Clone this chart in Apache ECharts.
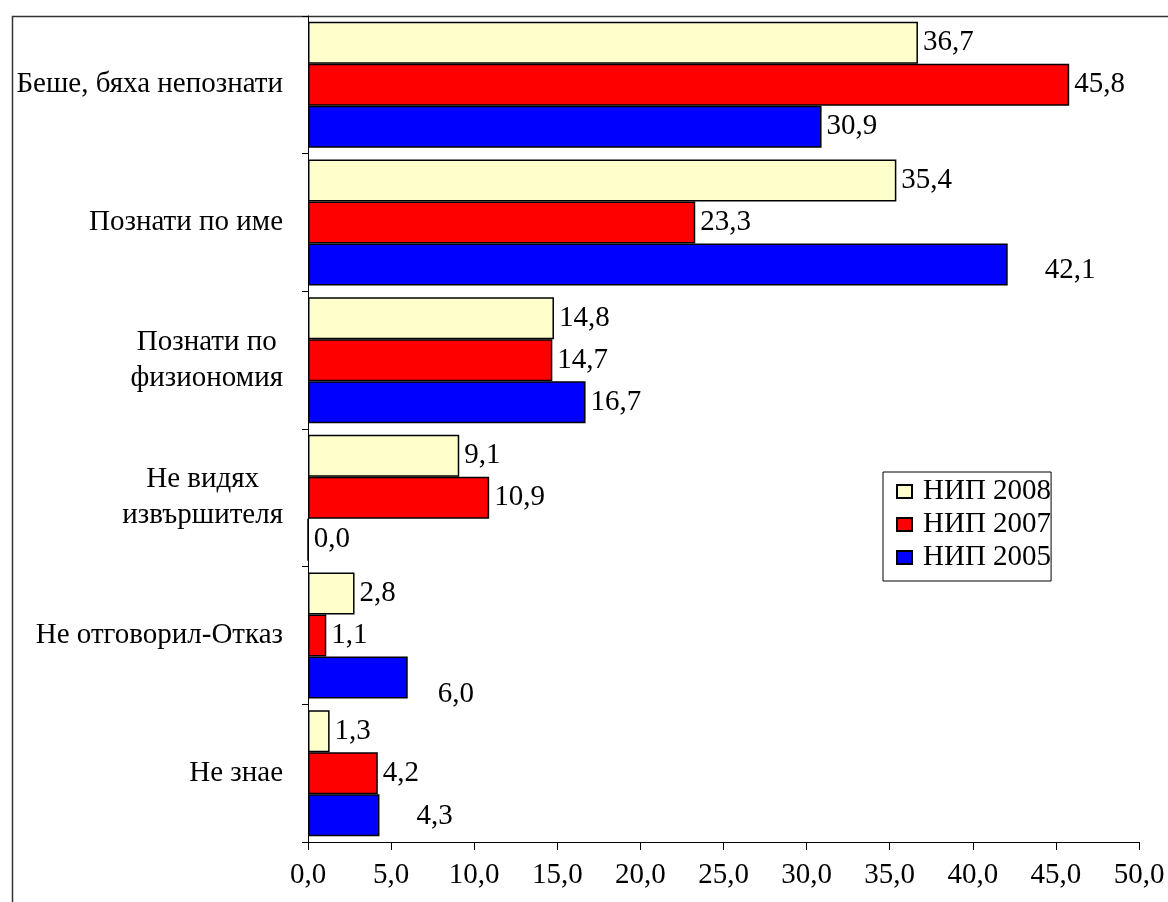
<!DOCTYPE html>
<html><head><meta charset="utf-8">
<script src="https://cdn.jsdelivr.net/npm/echarts@6/dist/echarts.min.js"></script>
<style>html,body{margin:0;padding:0;background:#fff}#c{width:1168px;height:902px}</style>
</head><body><div id="c"></div>
<script>
const categories = ['Беше, бяха непознати', 'Познати по име', 'Познати по\nфизиономия', 'Не видях\nизвършителя', 'Не отговорил-Отказ', 'Не знае'];
const seriesNames = ['НИП 2008', 'НИП 2007', 'НИП 2005'];
const values2008 = [36.7, 35.4, 14.8, 9.1, 2.8, 1.3];
const values2007 = [45.8, 23.3, 14.7, 10.9, 1.1, 4.2];
const values2005 = [30.9, 42.1, 16.7, 0.0, 6.0, 4.3];
const valueAxisMin = 0, valueAxisMax = 50, valueAxisStep = 5;

const colors = ['#FFFFCC', '#FF0000', '#0000FF'];
const FONT = 'Liberation Serif';
const FS = 29;
// manual label nudges (style only), per series index -> data index -> [dx, dy]
const labelNudges = {2: {1: [32, 6], 4: [25, 17], 5: [32, 1]}};

const fmt = v => v.toFixed(1).replace('.', ',');
const allValues = [values2008, values2007, values2005];

const series = allValues.map((vals, si) => ({
  name: seriesNames[si],
  type: 'bar',
  barGap: '0%',
  barCategoryGap: '8.5%',
  itemStyle: {color: colors[si], borderColor: '#000', borderWidth: 1.5},
  label: {show: true, position: 'right', distance: 5, color: '#000', fontFamily: FONT, fontSize: FS,
          formatter: p => fmt(p.value)},
  data: vals.map((v, i) => {
    const n = labelNudges[si] && labelNudges[si][i];
    return n ? {value: v, label: {offset: n}} : v;
  })
}));

const chart = echarts.init(document.getElementById('c'));
chart.setOption({
  animation: false,
  backgroundColor: '#fff',
  textStyle: {fontFamily: FONT},
  grid: {left: 308, top: 16, right: 29, bottom: 60, containLabel: false},
  legend: {
    orient: 'vertical', left: 883, top: 472,
    data: seriesNames, icon: 'rect', itemWidth: 15, itemHeight: 13, itemGap: 4,
    padding: [5, 0, 9, 13],
    borderColor: '#000', borderWidth: 1,
    textStyle: {fontFamily: FONT, fontSize: FS, color: '#000', padding: [0, 0, 0, 6]}
  },
  xAxis: {
    type: 'value', min: valueAxisMin, max: valueAxisMax, interval: valueAxisStep,
    axisLine: {show: true, lineStyle: {color: '#000', width: 1}},
    axisTick: {show: true, length: 8, lineStyle: {color: '#000'}},
    splitLine: {show: false},
    axisLabel: {margin: 19, color: '#000', fontFamily: FONT, fontSize: FS, formatter: v => fmt(v)}
  },
  yAxis: {
    type: 'category', data: categories, inverse: true,
    axisLine: {show: true, lineStyle: {color: '#000', width: 1}},
    axisTick: {show: true, length: 6, lineStyle: {color: '#000'}},
    axisLabel: {
      margin: 25, color: '#000', fontFamily: FONT, fontSize: FS, lineHeight: 36,
      formatter: v => v.indexOf('\n') >= 0 ? v.split('\n').map(l => '{c|' + l + '}').join('\n') : v,
      rich: {c: {align: 'center', fontFamily: FONT, fontSize: FS, lineHeight: 36, color: '#000'}}
    }
  },
  graphic: [{type: 'rect', left: 10, top: 14, shape: {width: 1300, height: 1000},
             style: {fill: 'none', stroke: '#333', lineWidth: 1.5}, silent: true, z: -1}],
  series: series
});
</script></body></html>
